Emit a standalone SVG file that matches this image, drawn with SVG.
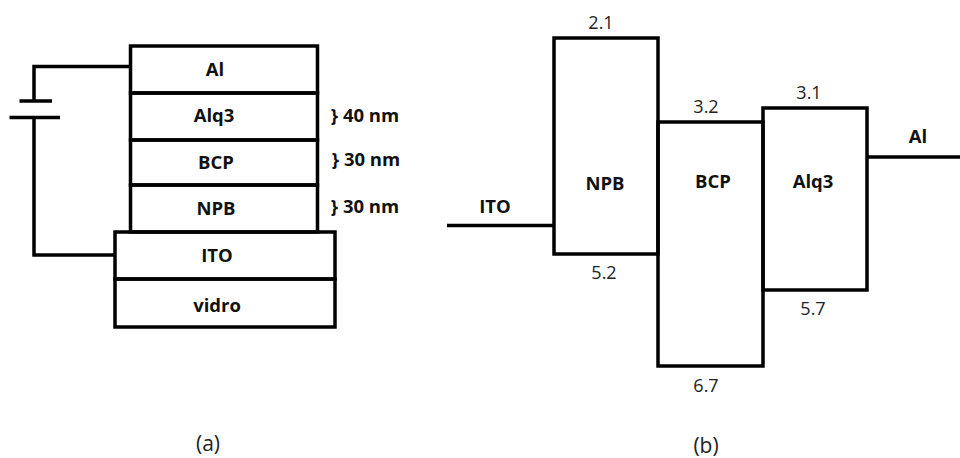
<svg xmlns="http://www.w3.org/2000/svg" width="960" height="458" viewBox="0 0 960 458">
<style>
.s{fill:none;stroke:#000;stroke-width:3.5}
.b{font:bold 18.5px "Open Sans","Noto Sans",sans-serif;text-anchor:middle;fill:#111}
.n{font:18px "Open Sans","Noto Sans",sans-serif;text-anchor:middle;fill:#222}
.c{font:21px "Open Sans","Noto Sans",sans-serif;text-anchor:middle;fill:#222}
</style>
<rect width="960" height="458" fill="#fff"/>
<g id="connectors">
<path class="s" d="M131 66.500H34V102M9.500 117.500H60M19.500 101H52M34 118V255H115"/>
<path class="s" d="M447 225.500H554M867 157H960"/>
</g>
<g id="al"><rect class="s" x="130.500" y="46" width="187" height="47"/><text class="b" x="215" y="76">Al</text></g>
<g id="alq3"><rect class="s" x="130.500" y="93" width="187" height="47"/><text class="b" x="214" y="122">Alq3</text><text class="b" x="365" y="122">} 40 nm</text></g>
<g id="bcp"><rect class="s" x="130.500" y="140" width="187" height="45"/><text class="b" x="216" y="169">BCP</text><text class="b" x="366" y="166">} 30 nm</text></g>
<g id="npb"><rect class="s" x="130.500" y="185" width="187" height="47"/><text class="b" x="216" y="215">NPB</text><text class="b" x="365" y="213">} 30 nm</text></g>
<g id="ito"><rect class="s" x="115" y="232" width="220" height="47"/><text class="b" x="217" y="262">ITO</text></g>
<g id="vidro"><rect class="s" x="115" y="279" width="220" height="48"/><text class="b" x="217" y="312">vidro</text></g>
<g id="ito-b"><text class="b" x="495" y="213">ITO</text></g>
<g id="npb-b"><rect class="s" x="554" y="38" width="104" height="216"/><text class="b" x="605" y="190">NPB</text><text class="n" x="601" y="29">2.1</text><text class="n" x="604" y="279">5.2</text></g>
<g id="bcp-b"><rect class="s" x="658" y="122" width="105" height="244"/><text class="b" x="713" y="188">BCP</text><text class="n" x="706" y="113">3.2</text><text class="n" x="706" y="392">6.7</text></g>
<g id="alq3-b"><rect class="s" x="763" y="108" width="104" height="182"/><text class="b" x="813" y="188">Alq3</text><text class="n" x="809" y="99">3.1</text><text class="n" x="813" y="315">5.7</text></g>
<g id="al-b"><text class="b" x="918" y="143">Al</text></g>
<text class="c" x="208" y="451">(a)</text>
<text class="c" x="706" y="453">(b)</text>
</svg>
